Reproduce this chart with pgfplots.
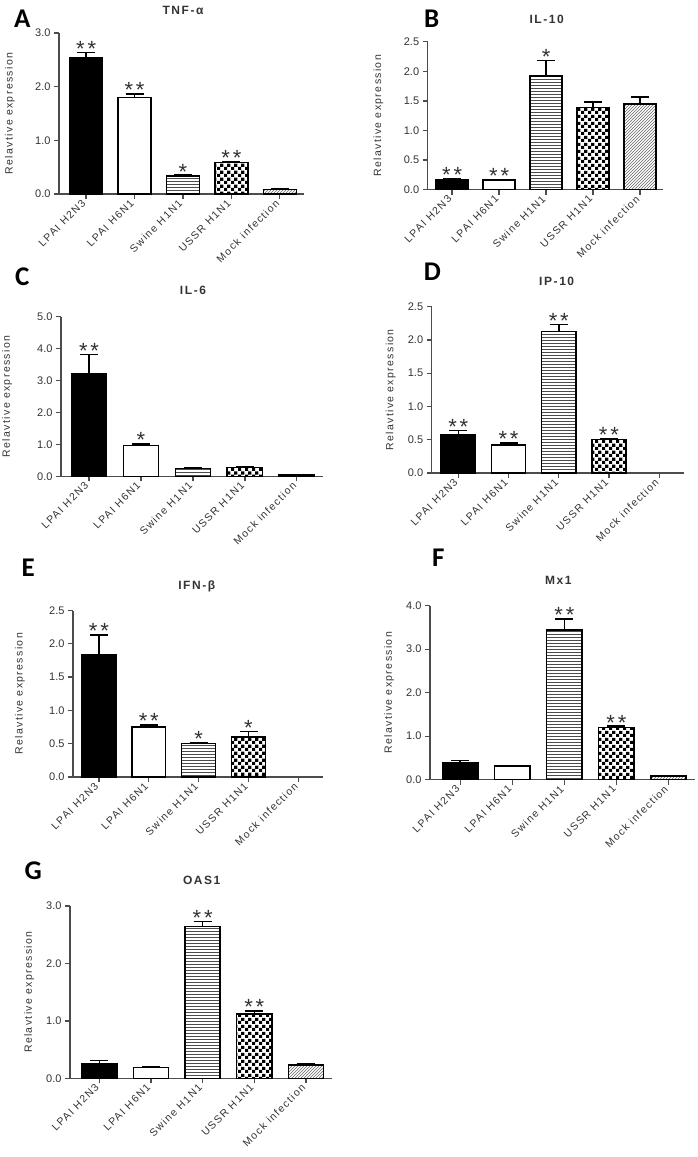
\documentclass[border=0pt]{standalone}
\usepackage{pgfplots}
\pgfplotsset{compat=1.18}
\usepackage{fontspec}
\setmainfont{Liberation Sans}
\newfontfamily\lsfont[LetterSpace=13]{Liberation Sans}
\newfontfamily\carlito{Carlito}
\usetikzlibrary{patterns}
\pgfdeclarepatternformonly{checker}{\pgfqpoint{0pt}{0pt}}{\pgfqpoint{7pt}{7pt}}{\pgfqpoint{7pt}{7pt}}{%
 \pgfpathrectangle{\pgfqpoint{0pt}{0pt}}{\pgfqpoint{3.5pt}{3.5pt}}%
 \pgfpathrectangle{\pgfqpoint{3.5pt}{3.5pt}}{\pgfqpoint{3.5pt}{3.5pt}}%
 \pgfusepath{fill}}
\definecolor{txt}{gray}{0.2}
\definecolor{axc}{gray}{0.3}
\pgfplotsset{
 panel/.style={scale only axis, axis lines*=left,
   axis line style={-, axc, line width=1.3pt}, ymin=0,
   xtick={0,1,2,3,4},
   xticklabels={LPAI H2N3, LPAI H6N1, Swine H1N1, USSR H1N1, Mock infection},
   x tick label style={rotate=45, anchor=east, font=\lsfont\fontsize{10.5}{12}\selectfont, text=txt},
   y tick label style={font=\fontsize{11}{13}\selectfont, text=txt},
   yticklabel style={/pgf/number format/.cd, fixed, fixed zerofill, precision=1},
   /pgf/number format/assume math mode=true,
   tick style={axc, line width=1.3pt}, tick align=outside, major tick length=5pt,
   ylabel={Relavtive expression},
   ylabel style={font=\lsfont\fontsize{10.5}{12}\selectfont, text=txt, anchor=center},
   clip=false},
 bb/.style={ybar, bar width=0.68, bar shift=0pt, draw=black, line width=1.5pt,
   /pgfplots/error bars/y dir=plus, /pgfplots/error bars/y explicit,
   /pgfplots/error bars/error bar style={line width=1.5pt, black},
   /pgfplots/error bars/error mark options={rotate=90, line width=1.5pt, black, mark size=9pt}},
 b1/.style={fill=black, bb},
 b2/.style={fill=white, bb},
 b3/.style={pattern=horizontal lines, pattern color=black!70, bb},
 b4/.style={pattern=checker, pattern color=black, bb},
 b5/.style={pattern=north east lines, pattern color=black!60, bb},
 stars/.style={only marks, mark=none, nodes near coords, point meta=explicit symbolic,
   every node near coord/.append style={font=\lsfont\fontsize{22}{22}\selectfont, text=txt, inner sep=0pt, anchor=south, yshift=-4pt}},
}
\begin{document}
\begin{tikzpicture}
\useasboundingbox (0pt,-1157pt) rectangle (697pt,0pt);
% A TNF-alpha
\begin{axis}[panel, at={(59pt,-194pt)}, anchor=south west, width=245pt, height=161pt,
  xmin=-0.56, xmax=4.5, ymax=3, ytick={0,1,2,3},
  ylabel style={at={(axis description cs:-0.2,0.5)}}]
\addplot[b1] coordinates {(0,2.53) +- (0,0.11)};
\addplot[b2] coordinates {(1,1.80) +- (0,0.06)};
\addplot[b3] coordinates {(2,0.34) +- (0,0.01)};
\addplot[b4] coordinates {(3,0.59) +- (0,0.02)};
\addplot[b5] coordinates {(4,0.08) +- (0,0.02)};
\addplot[stars] coordinates {(0,2.64)[**] (1,1.86)[**] (2,0.35)[*] (3,0.61)[**]};
\end{axis}
% B IL-10
\begin{axis}[panel, at={(427.7pt,-189.7pt)}, anchor=south west, width=235.3pt, height=148pt,
  xmin=-0.52, xmax=4.49, ymax=2.5, ytick={0,0.5,1,1.5,2,2.5},
  ylabel style={at={(axis description cs:-0.21,0.5)}}]
\addplot[b1] coordinates {(0,0.16) +- (0,0.03)};
\addplot[b2] coordinates {(1,0.16) +- (0,0.01)};
\addplot[b3] coordinates {(2,1.92) +- (0,0.26)};
\addplot[b4] coordinates {(3,1.385) +- (0,0.095)};
\addplot[b5] coordinates {(4,1.45) +- (0,0.12)};
\addplot[stars] coordinates {(0,0.19)[**] (1,0.17)[**] (2,2.18)[*]};
\end{axis}
% C IL-6
\begin{axis}[panel, at={(61pt,-476.3pt)}, anchor=south west, width=262.3pt, height=159.6pt,
  xmin=-0.54, xmax=4.51, ymax=5, ytick={0,1,2,3,4,5},
  ylabel style={at={(axis description cs:-0.205,0.5)}}]
\addplot[b1] coordinates {(0,3.21) +- (0,0.60)};
\addplot[b2] coordinates {(1,0.97) +- (0,0.05)};
\addplot[b3] coordinates {(2,0.25) +- (0,0.01)};
\addplot[b4] coordinates {(3,0.27) +- (0,0.02)};
\addplot[b5] coordinates {(4,0.04) +- (0,0.01)};
\addplot[stars] coordinates {(0,3.81)[**] (1,1.02)[*]};
\end{axis}
% D IP-10
\begin{axis}[panel, at={(431.7pt,-473pt)}, anchor=south west, width=252.6pt, height=166.3pt,
  xmin=-0.53, xmax=4.5, ymax=2.5, ytick={0,0.5,1,1.5,2,2.5},
  ylabel style={at={(axis description cs:-0.162,0.5)}}]
\addplot[b1] coordinates {(0,0.58) +- (0,0.06)};
\addplot[b2] coordinates {(1,0.42) +- (0,0.03)};
\addplot[b3] coordinates {(2,2.13) +- (0,0.10)};
\addplot[b4] coordinates {(3,0.50) +- (0,0.02)};
\addplot[stars] coordinates {(0,0.64)[**] (1,0.45)[**] (2,2.23)[**] (3,0.52)[**]};
\end{axis}
% E IFN-beta
\begin{axis}[panel, at={(73pt,-777pt)}, anchor=south west, width=250.3pt, height=166.5pt,
  xmin=-0.52, xmax=4.5, ymax=2.5, ytick={0,0.5,1,1.5,2,2.5},
  ylabel style={at={(axis description cs:-0.212,0.5)}}]
\addplot[b1] coordinates {(0,1.84) +- (0,0.29)};
\addplot[b2] coordinates {(1,0.75) +- (0,0.03)};
\addplot[b3] coordinates {(2,0.50) +- (0,0.02)};
\addplot[b4] coordinates {(3,0.60) +- (0,0.08)};
\addplot[stars] coordinates {(0,2.13)[**] (1,0.78)[**] (2,0.52)[*] (3,0.68)[*]};
\end{axis}
% F Mx1
\begin{axis}[panel, at={(430pt,-779.7pt)}, anchor=south west, width=265pt, height=174pt,
  xmin=-0.58, xmax=4.51, ymax=4, ytick={0,1,2,3,4},
  ylabel style={at={(axis description cs:-0.154,0.5)}}]
\addplot[b1] coordinates {(0,0.38) +- (0,0.06)};
\addplot[b2] coordinates {(1,0.32) +- (0,0.01)};
\addplot[b3] coordinates {(2,3.44) +- (0,0.25)};
\addplot[b4] coordinates {(3,1.20) +- (0,0.03)};
\addplot[b5] coordinates {(4,0.08) +- (0,0.02)};
\addplot[stars] coordinates {(2,3.69)[**] (3,1.23)[**]};
\end{axis}
% G OAS1
\begin{axis}[panel, at={(70pt,-1078.3pt)}, anchor=south west, width=261.7pt, height=172.3pt,
  xmin=-0.57, xmax=4.5, ymax=3, ytick={0,1,2,3},
  ylabel style={at={(axis description cs:-0.156,0.5)}}]
\addplot[b1] coordinates {(0,0.26) +- (0,0.05)};
\addplot[b2] coordinates {(1,0.185) +- (0,0.01)};
\addplot[b3] coordinates {(2,2.64) +- (0,0.09)};
\addplot[b4] coordinates {(3,1.12) +- (0,0.05)};
\addplot[b5] coordinates {(4,0.23) +- (0,0.02)};
\addplot[stars] coordinates {(2,2.73)[**] (3,1.17)[**]};
\end{axis}
% titles and panel letters
\begin{scope}[every node/.style={text=txt, font=\lsfont\bfseries\fontsize{12}{14}\selectfont}]
\node at (183pt,-10pt) {TNF-α};
\node at (546.7pt,-19pt) {IL-10};
\node at (193pt,-290.7pt) {IL-6};
\node at (556.7pt,-281pt) {IP-10};
\node at (196.7pt,-586.7pt) {IFN-β};
\node at (558.3pt,-580pt) {Mx1};
\node at (201.7pt,-880.7pt) {OAS1};
\end{scope}
\begin{scope}[every node/.style={text=black, font=\carlito\bfseries\fontsize{27}{30}\selectfont}]
\node at (22.3pt,-18.3pt) {A};
\node at (431.7pt,-18.3pt) {B};
\node at (22.3pt,-277pt) {C};
\node at (432.3pt,-271.7pt) {D};
\node at (28.3pt,-568pt) {E};
\node at (438.3pt,-557.3pt) {F};
\node at (33.3pt,-870.7pt) {G};
\end{scope}
\end{tikzpicture}
\end{document}
